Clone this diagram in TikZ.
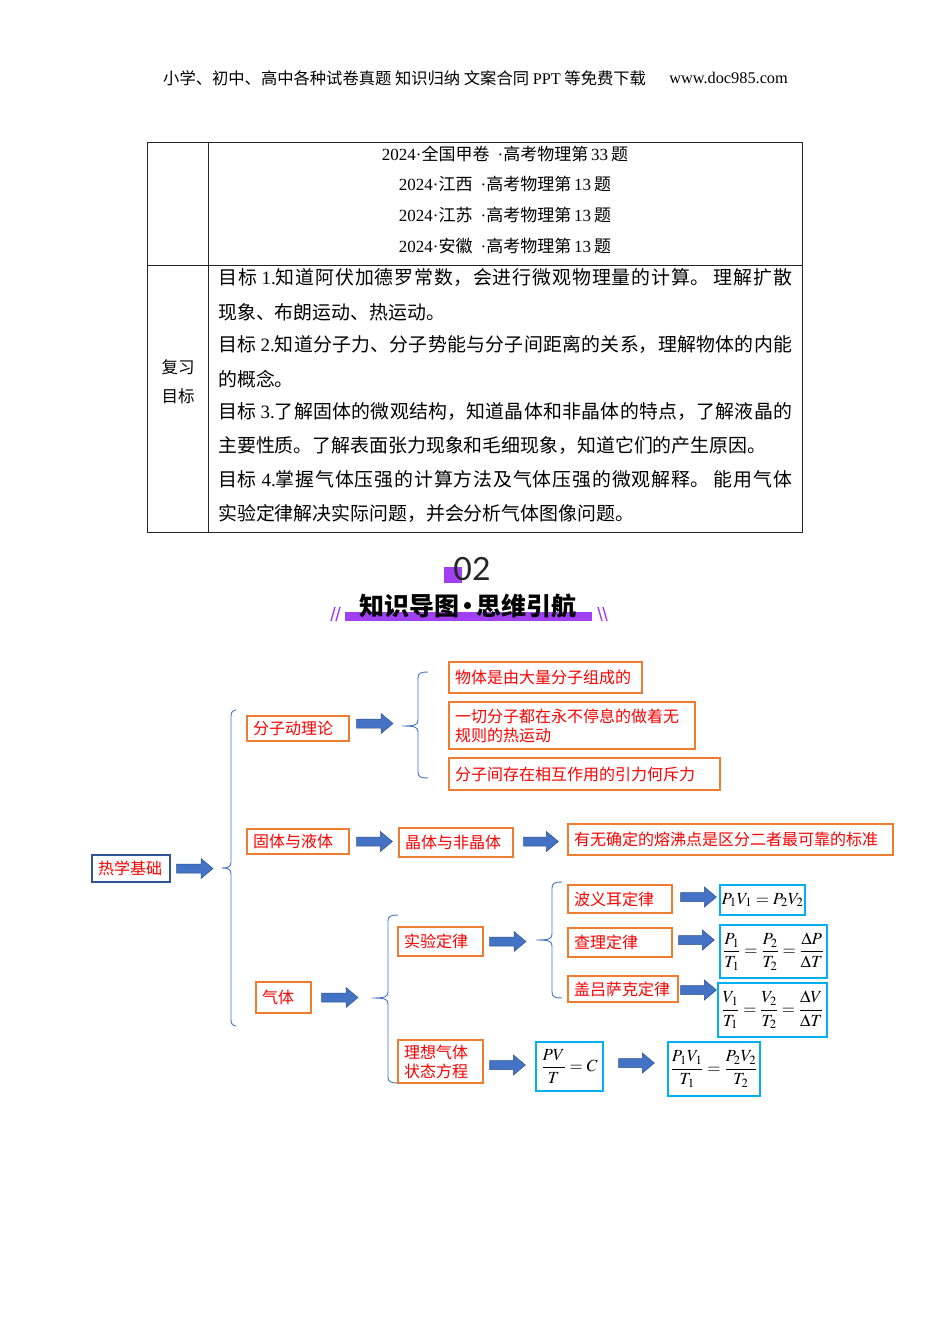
\documentclass[tikz,border=0pt]{standalone}
\usepackage{amsmath}
\usepackage{mathptmx}
\usepackage{fontspec}
\setmainfont{Noto Sans CJK SC}
\newfontfamily\lat{Liberation Serif}
\newfontfamily\numfont{Lato}
\usetikzlibrary{calc}
\definecolor{obord}{RGB}{237,125,49}
\definecolor{tred}{RGB}{255,0,0}
\definecolor{ablue}{RGB}{68,114,196}
\definecolor{aedge}{RGB}{47,82,143}
\definecolor{cbord}{RGB}{0,176,240}
\definecolor{purp}{RGB}{160,64,240}
\definecolor{hblue}{RGB}{47,85,151}
\newcommand{\setfs}[1]{\fontsize{#1}{#1}\selectfont}
\newcommand{\jtx}[1]{\XeTeXlinebreaklocale "zh"\XeTeXlinebreakskip=0pt plus 4pt minus 1pt\relax\parfillskip=0pt\relax #1\par}
\newcommand{\lbr}[7]{%
  \draw[brc] (#7,#3) .. controls (#2+3,#3) and (#2,#3+1) .. (#2,#3+6) -- (#2,#4-6)
    .. controls (#2,#4-1) and (#2-3,#4) .. (#6,#4)
    .. controls (#2-3,#4) and (#2,#4+1) .. (#2,#4+6) -- (#2,#5-6)
    .. controls (#2,#5-1) and (#2+3,#5) .. (#7,#5);
  \coordinate (#1) at (#6,#4);}
\newcommand{\barrow}[2]{%
  \path (#1) coordinate (bA) (#2) coordinate (bB);
  \filldraw[arr] ($(bA)+(0,-4.5)$) -- ($(bB)+(-12,-4.5)$) -- ($(bB)+(-12,-10)$) -- (bB)
    -- ($(bB)+(-12,10)$) -- ($(bB)+(-12,4.5)$) -- ($(bA)+(0,4.5)$) -- cycle;}
\tikzset{
  tab/.style={draw=black!85, line width=0.8pt},
  trow/.style={inner sep=0pt, font=\setfs{17}},
  tline/.style={anchor=west, inner sep=0pt, font=\fontsize{18.9}{22}\selectfont},
  jline/.style={tline, text width=574pt, align=justify},
  ob/.style={draw=obord, line width=1.2pt, fill=white, text=tred, font=\fontsize{16}{19}\selectfont,
    align=left, inner xsep=6pt, inner ysep=0pt},
  fm/.style={draw=cbord, line width=1.2pt, fill=white, inner sep=1pt, font=\fontsize{17}{20}\selectfont},
  brc/.style={draw=ablue, line width=0.9pt},
  arr/.style={fill=ablue, draw=aedge, line width=0.5pt}
}
\begin{document}
\begin{tikzpicture}[x=1pt,y=-1pt]
\fill[white] (0,0) rectangle (950,1344);
\useasboundingbox (0,0) rectangle (950,1344);
% header
\node[anchor=west, inner sep=0pt, font=\setfs{16.3}] (hdr) at (163,78) {小学、初中、高中各种试卷真题 知识归纳 文案合同 {\lat PPT} 等免费下载};
\node[anchor=east, inner sep=0pt, font={\lat\setfs{16.3}}] (url) at (788,78) {www.doc985.com};
% table
\draw[tab] (147,142) rectangle (802,532);
\draw[tab] (208,142) -- (208,532);
\draw[tab] (147,265) -- (802,265);
\node[trow] (r1) at (505,154) {{\lat 2024·}全国甲卷 {\lat\ ·}高考物理第{\lat\,33\,}题};
\node[trow] (r2) at (505,184) {{\lat 2024·}江西 {\lat\ ·}高考物理第{\lat\,13\,}题};
\node[trow] (r3) at (505,215) {{\lat 2024·}江苏 {\lat\ ·}高考物理第{\lat\,13\,}题};
\node[trow] (r4) at (505,246) {{\lat 2024·}安徽 {\lat\ ·}高考物理第{\lat\,13\,}题};
\node[trow, font=\setfs{16.5}] (fx) at (178,367) {复习};
\node[trow, font=\setfs{16.5}] (mb) at (178,396) {目标};
\node[jline] (l1) at (218,278) {\jtx{目标 {\lat 1.}知道阿伏加德罗常数，会进行微观物理量的计算。 理解扩散}};
\node[tline] (l2) at (218,312) {现象、布朗运动、热运动。};
\node[jline] (l3) at (218,345) {\jtx{目标 {\lat 2.}知道分子力、分子势能与分子间距离的关系，理解物体的内能}};
\node[tline] (l4) at (218,379) {的概念。};
\node[jline] (l5) at (218,412) {\jtx{目标 {\lat 3.}了解固体的微观结构，知道晶体和非晶体的特点，了解液晶的}};
\node[tline] (l6) at (218,446) {主要性质。了解表面张力现象和毛细现象，知道它们的产生原因。};
\node[jline] (l7) at (218,479) {\jtx{目标 {\lat 4.}掌握气体压强的计算方法及气体压强的微观解释。 能用气体}};
\node[tline] (l8) at (218,513) {实验定律解决实际问题，并会分析气体图像问题。};
% heading
\fill[purp] (444,567) rectangle (462,583);
\node[inner sep=0pt, text=black!85, font={\numfont\setfs{32}}] (num) at (472,569) {02};
\fill[purp] (345,612) rectangle (592,621);
\draw[purp, line width=1.4pt] (331,621) -- (335,607) (336,621) -- (340,607);
\draw[purp, line width=1.4pt] (598,607) -- (602,621) (603,607) -- (607,621);
\node[inner sep=0pt, font=\setfs{25}\bfseries] (title) at (468,606) {知识导图\kern-0.15em•\kern-0.15em思维引航};
% braces
\lbr{b1}{231}{710}{868}{1026}{222}{236}
\lbr{b2}{418}{672}{726}{778}{402}{428}
\lbr{b3}{388}{915}{998}{1083}{372}{398}
\lbr{b4}{552}{882}{940}{998}{536}{562}
% boxes
\node[ob, draw=hblue, text width=66pt, minimum height=27pt] (rxjc) at (131,868.5) {热学基础};
\node[ob, text width=90pt, minimum height=25pt] (fzdll) at (298,728.5) {分子动理论};
\node[ob, text width=90pt, minimum height=25pt] (gtyt) at (298,841.5) {固体与液体};
\node[ob, text width=43pt, minimum height=31pt] (qt) at (283.5,997.5) {气体};
\node[ob, text width=181pt, minimum height=31pt] (n1) at (545.5,677.5) {物体是由大量分子组成的};
\node[ob, text width=234pt, minimum height=47pt] (n2) at (572,725.5) {一切分子都在永不停息的做着无\\规则的热运动};
\node[ob, text width=259pt, minimum height=32pt] (n3) at (584.5,774) {分子间存在相互作用的引力何斥力};
\node[ob, text width=102pt, minimum height=29pt] (jt) at (456,842.5) {晶体与非晶体};
\node[ob, text width=313pt, minimum height=31pt] (yw) at (730.5,839.5) {有无确定的熔沸点是区分二者最可靠的标准};
\node[ob, text width=73pt, minimum height=29pt] (sydl) at (440.5,941.5) {实验定律};
\node[ob, text width=73pt, minimum height=43pt] (lxqt) at (440.5,1061.5) {理想气体\\状态方程};
\node[ob, text width=92pt, minimum height=28pt] (byr) at (620,899) {波义耳定律};
\node[ob, text width=92pt, minimum height=29pt] (cl) at (620,942.5) {查理定律};
\node[ob, text width=98pt, minimum height=26pt] (glsk) at (623,989) {盖吕萨克定律};
% formulas
\node[fm, minimum width=85pt, minimum height=30pt] (f1) at (762.5,900) {$P_1V_1=P_2V_2$};
\node[fm, minimum width=107pt, minimum height=53pt] (f2) at (773.5,951.5) {$\dfrac{P_1}{T_1}=\dfrac{P_2}{T_2}=\dfrac{\Delta P}{\Delta T}$};
\node[fm, minimum width=109pt, minimum height=54pt] (f3) at (772.5,1010) {$\dfrac{V_1}{T_1}=\dfrac{V_2}{T_2}=\dfrac{\Delta V}{\Delta T}$};
\node[fm, minimum width=67pt, minimum height=49pt] (f5) at (569.5,1066.5) {$\dfrac{PV}{T}=C$};
\node[fm, minimum width=92pt, minimum height=54pt] (f6) at (714,1069) {$\dfrac{P_1V_1}{T_1}=\dfrac{P_2V_2}{T_2}$};
% arrows
\barrow{$(rxjc.east)+(6,0)$}{$(rxjc.east -| b1)+(-9,0)$}
\barrow{$(fzdll.east)+(7,-5)$}{$(fzdll.east -| b2)+(-9,-5)$}
\barrow{$(gtyt.east)+(7,0)$}{$(gtyt.east -| jt.west)+(-6,0)$}
\barrow{$(jt.east)+(10,-1)$}{$(jt.east -| yw.west)+(-9,-1)$}
\barrow{$(qt.east)+(10,0)$}{$(qt.east -| b3)+(-14,0)$}
\barrow{$(sydl.east)+(6,0)$}{$(sydl.east -| b4)+(-10,0)$}
\barrow{$(lxqt.east)+(6,3.5)$}{$(lxqt.east -| f5.west)+(-10,3.5)$}
\barrow{$(f5.east)+(15,-3.5)$}{$(f5.east -| f6.west)+(-13,-3.5)$}
\barrow{$(byr.east)+(8,-2)$}{$(byr.east -| f1.west)+(-3,-2)$}
\barrow{$(cl.east)+(6,-2.5)$}{$(cl.east -| f2.west)+(-5,-2.5)$}
\barrow{$(glsk.east)+(2,1)$}{$(glsk.east -| f3.west)+(-1,1)$}
\end{tikzpicture}
\end{document}
